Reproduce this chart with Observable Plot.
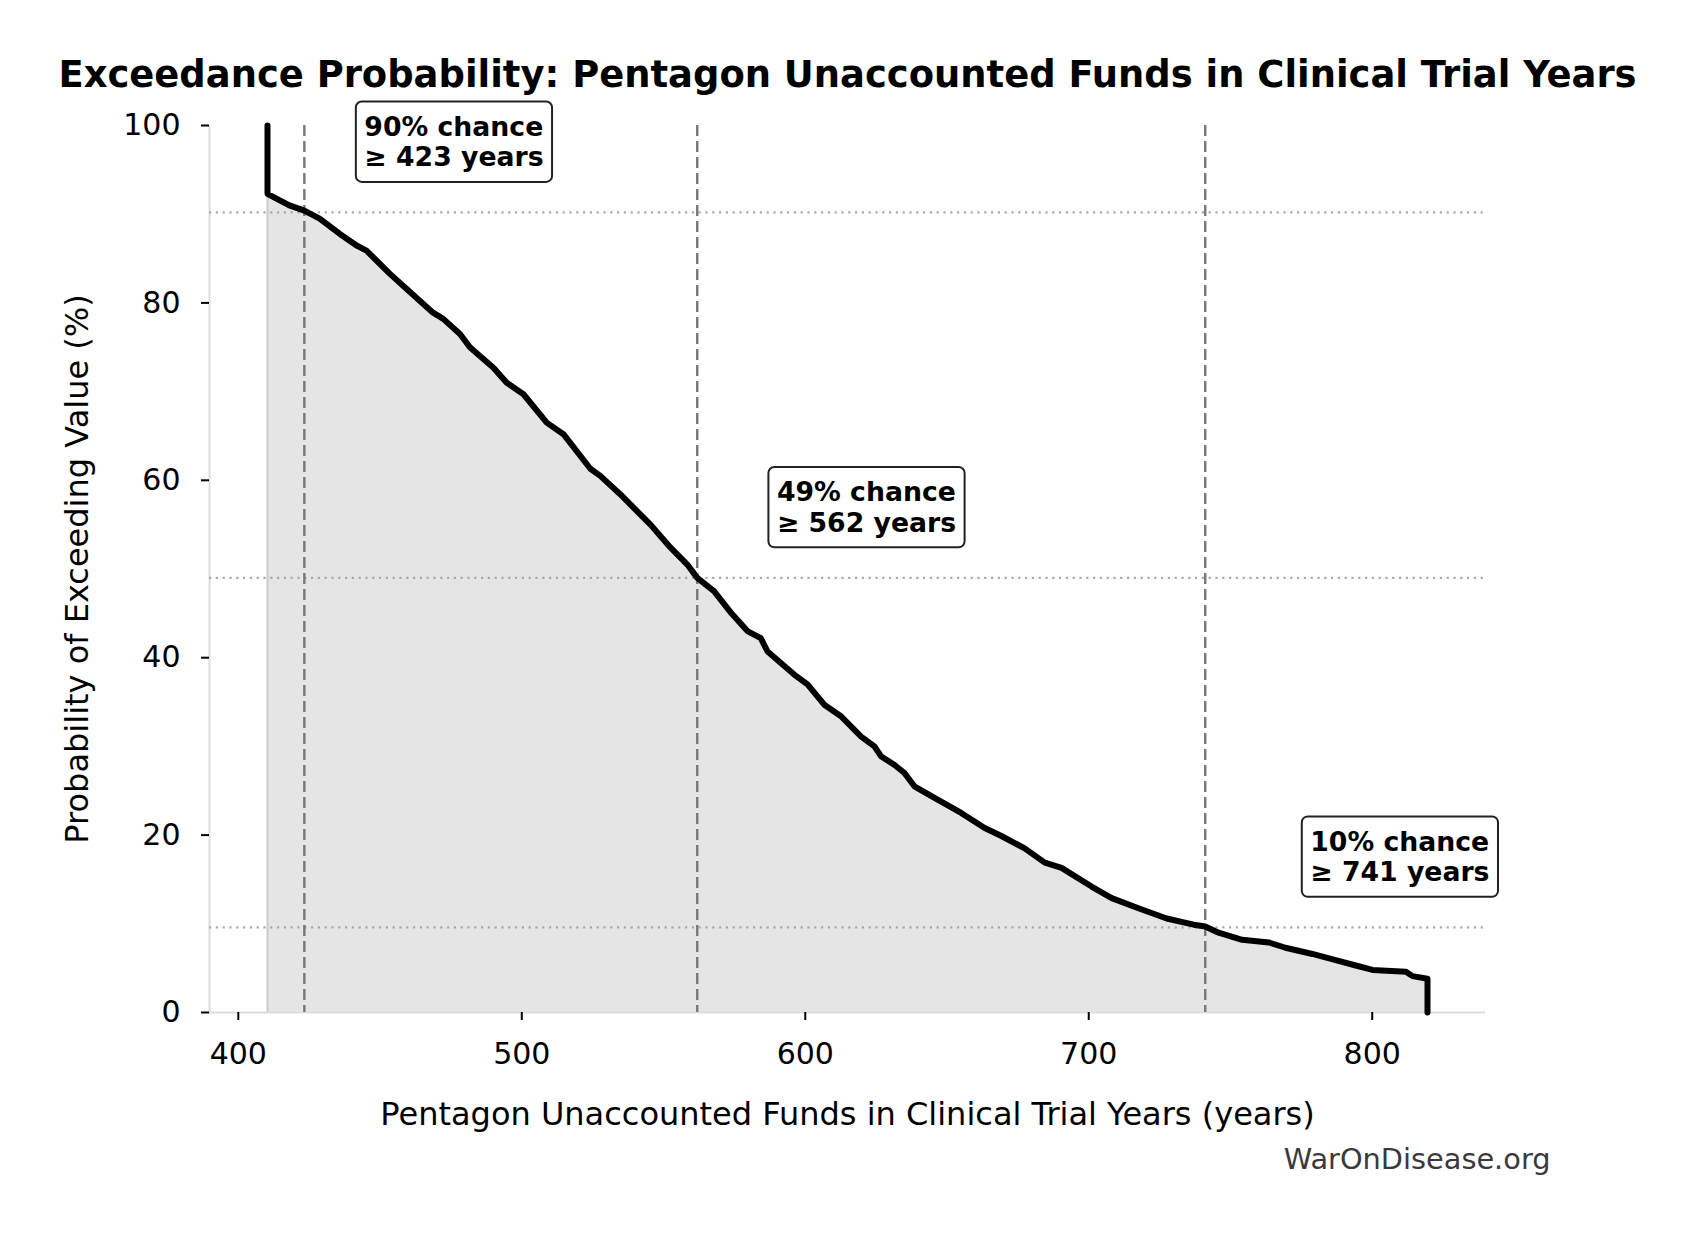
<!DOCTYPE html>
<html>
<head>
<meta charset="utf-8">
<script src="https://cdn.jsdelivr.net/npm/d3@7"></script>
<script src="https://cdn.jsdelivr.net/npm/@observablehq/plot@0.6"></script>
<style>
  html, body { margin: 0; padding: 0; background: #fff; }
  svg { display: block; }
</style>
</head>
<body>
<div id="chart"></div>
<script>
// ---- Data ----
const years = [410.3, 410.3, 418.0, 423.3, 428.7, 435.7, 441.6, 445.2, 453.4, 459.3,
  468.7, 472.3, 478.2, 481.7, 490.0, 494.7, 500.6, 508.8, 514.7, 524.2,
  527.7, 534.8, 545.4, 552.5, 558.4, 561.9, 567.8, 573.7, 579.6, 584.3,
  586.7, 596.1, 600.8, 606.7, 612.6, 619.7, 624.4, 626.7, 631.5, 635.0,
  638.5, 645.6, 655.0, 663.3, 669.2, 677.4, 684.5, 690.4, 701.0, 708.1,
  718.0, 727.5, 737.0, 741.1, 745.8, 754.1, 763.5, 769.4, 778.9, 787.1,
  794.2, 800.1, 811.9, 814.2, 819.5, 819.5];
const probs = [100, 92.3, 91.0, 90.4, 89.5, 87.8, 86.5, 85.9, 83.3, 81.6,
  78.9, 78.2, 76.5, 75.0, 72.7, 71.0, 69.7, 66.5, 65.2, 61.3,
  60.5, 58.4, 55.0, 52.4, 50.5, 49.0, 47.5, 45.1, 43.0, 42.2,
  40.7, 38.1, 37.0, 34.7, 33.4, 31.1, 30.0, 28.9, 27.9, 27.0,
  25.5, 24.2, 22.5, 20.8, 19.9, 18.5, 16.9, 16.3, 14.2, 12.9,
  11.7, 10.6, 9.9, 9.7, 9.0, 8.2, 7.9, 7.3, 6.6, 5.9,
  5.3, 4.8, 4.6, 4.1, 3.8, 0];
const thresholdYears = [423.3, 561.9, 741.1];
const thresholdProbs = [90.2, 49.0, 9.6];
const xTicks = [400, 500, 600, 700, 800];
const yTicks = [0, 20, 40, 60, 80, 100];
const titleText = "Exceedance Probability: Pentagon Unaccounted Funds in Clinical Trial Years";
const xLabel = "Pentagon Unaccounted Funds in Clinical Trial Years (years)";
const yLabel = "Probability of Exceeding Value (%)";
const captionText = "WarOnDisease.org";

// ---- Derived tables ----
const curve = years.map((x, i) => ({x, y: probs[i]}));
const fillData = curve.slice(1);
const xMin = d3.min(years), xMax = d3.max(years), pad = (xMax - xMin) * 0.05;
const xDomain = [xMin - pad, xMax + pad];
const thresholds = thresholdYears.map((x, i) => ({
  x, p: thresholdProbs[i],
  label: `${Math.round(thresholdProbs[i])}% chance\n≥ ${Math.round(x)} years`
}));

const chart = Plot.plot({
  width: 1693,
  height: 1233,
  marginLeft: 209,
  marginRight: 208,
  marginTop: 125,
  marginBottom: 221,
  style: {fontFamily: "'DejaVu Sans', sans-serif", background: "white", color: "black"},
  x: {domain: xDomain},
  y: {domain: [0, 100]},
  marks: [
    Plot.areaY(fillData, {x: "x", y: "y", fill: "#e5e5e5"}),
    Plot.ruleX([fillData[0]], {x: "x", y1: 0, y2: "y", stroke: "#cccccc", strokeWidth: 2}),
    Plot.ruleX([xDomain[0]], {stroke: "#dddddd", strokeWidth: 2}),
    Plot.ruleY([0], {stroke: "#dddddd", strokeWidth: 2}),
    Plot.ruleY(thresholds, {y: "p", stroke: "#aaaaaa", strokeWidth: 2.2, strokeDasharray: "2.2,4.6"}),
    Plot.ruleX(thresholds, {x: "x", stroke: "#777777", strokeWidth: 2.4, strokeDasharray: "11,5"}),
    Plot.line(curve, {x: "x", y: "y", stroke: "black", strokeWidth: 6}),
    Plot.axisX({ticks: xTicks, tickSize: 8, tickPadding: 22, fontSize: 30, strokeWidth: 2, label: null, tickFormat: d => String(d)}),
    Plot.axisY({ticks: yTicks, tickSize: 8, tickPadding: 21, fontSize: 30, strokeWidth: 2, label: null, tickFormat: d => String(d)}),
    Plot.text(thresholds, {
      x: d => d.x * 1.05, y: d => d.p + 8, text: "label",
      textAnchor: "start", lineAnchor: "middle", fontWeight: "bold",
      fontSize: 26.7, lineHeight: 1.14, fill: "black"
    }),
    Plot.text([titleText], {frameAnchor: "top", lineAnchor: "middle", textAnchor: "middle", dy: -50.8, fontSize: 36.9, fontWeight: "bold", fill: "black"}),
    Plot.text([xLabel], {frameAnchor: "bottom", lineAnchor: "middle", textAnchor: "middle", dy: 101.8, fontSize: 32, fill: "black"}),
    Plot.text([yLabel], {frameAnchor: "left", lineAnchor: "middle", textAnchor: "middle", dx: -131.5, rotate: -90, fontSize: 32, fill: "black"}),
    Plot.text([captionText], {frameAnchor: "bottom-right", lineAnchor: "middle", textAnchor: "end", dx: 65, dy: 147, fontSize: 28.8, fill: "#3a3a3a"})
  ]
});

document.getElementById("chart").appendChild(chart);

// Rounded white boxes behind the annotation labels
const padX = 8.5, padY = 9.5;
Array.from(chart.querySelectorAll("text"))
  .filter(t => t.textContent.includes("% chance"))
  .forEach(t => {
    const bb = t.getBBox();
    const rect = document.createElementNS("http://www.w3.org/2000/svg", "rect");
    rect.setAttribute("x", bb.x - padX);
    rect.setAttribute("y", bb.y - padY);
    rect.setAttribute("width", bb.width + 2 * padX);
    rect.setAttribute("height", bb.height + 2 * padY);
    rect.setAttribute("rx", 6);
    rect.setAttribute("fill", "white");
    rect.setAttribute("stroke", "#222");
    rect.setAttribute("stroke-width", 2);
    const tr = t.getAttribute("transform");
    if (tr) rect.setAttribute("transform", tr);
    t.parentNode.insertBefore(rect, t);
  });
</script>
</body>
</html>
